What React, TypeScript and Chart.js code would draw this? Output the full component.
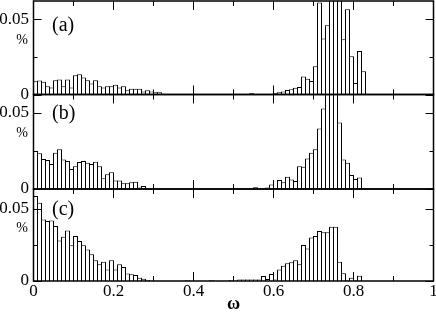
import { useEffect, useRef } from 'react';
import { Chart, registerables } from 'chart.js';

Chart.register(...registerables);

// ---------- data ----------
const BIN_WIDTH = 0.01;
const PANEL_TAGS = ['(a)', '(b)', '(c)'];
const X_TITLE = 'ω';
const Y_UNIT = '%';
const X_TICK_LABELS = [0, 0.2, 0.4, 0.6, 0.8, 1];
const X_MINOR_TICKS = [0.1, 0.3, 0.5, 0.7, 0.9];
const Y_TICK_LABELS = [0, 0.05];
const Y_MINOR_TICKS = [0.025];
const Y_MAX = [0.062, 0.062, 0.0635];

const SERIES_A = [
  0.0088, 0.0093, 0.0084, 0.0055, 0.0046, 0.0095, 0.0100, 0.0055, 0.0100, 0.0046,
  0.0128, 0.0135, 0.0113, 0.0095, 0.0073, 0.0095, 0.0055, 0.0046, 0.0055, 0.0055,
  0.0064, 0.0046, 0.0055, 0.0029, 0.0038, 0.0038, 0.0038, 0.0020, 0.0029, 0.0020,
  0.0015, 0.0015, 0.0005, 0, 0, 0, 0, 0, 0, 0,
  0, 0, 0, 0, 0, 0, 0, 0, 0, 0,
  0, 0, 0.0004, 0, 0.0008, 0, 0, 0.0004, 0, 0.0004,
  0.0008, 0.0015, 0.0020, 0.0030, 0.0035, 0.0045, 0.0050, 0.0120, 0.0104, 0.0090,
  0.0188, 0.0610, 0.0372, 0.0460, 0.0750, 0.0800, 0.0720, 0.0367, 0.0566, 0.0254,
  0.0077, 0.0288, 0.0155, 0, 0, 0, 0.0003, 0, 0, 0,
  0, 0, 0, 0, 0, 0, 0, 0, 0, 0,
];

const SERIES_B = [
  0.0249, 0.0234, 0.0197, 0.0190, 0.0164, 0.0238, 0.0260, 0.0194, 0.0183, 0.0131,
  0.0150, 0.0177, 0.0183, 0.0172, 0.0164, 0.0179, 0.0150, 0.0070, 0.0096, 0.0110,
  0.0055, 0.0055, 0.0037, 0.0037, 0.0044, 0.0048, 0.0010, 0.0020, 0, 0,
  0, 0, 0, 0, 0, 0, 0, 0, 0, 0,
  0, 0, 0, 0, 0, 0, 0, 0.0004, 0, 0,
  0, 0.0004, 0, 0.0004, 0, 0.0012, 0, 0, 0.0010, 0.0030,
  0.0005, 0.0059, 0.0044, 0.0080, 0.0063, 0.0052, 0.0150, 0.0146, 0.0200, 0.0238,
  0.0260, 0.0397, 0.0528, 0.0700, 0.0750, 0.0680, 0.0437, 0.0194, 0.0172, 0.0092,
  0.0066, 0.0076, 0, 0, 0, 0, 0, 0, 0, 0,
  0, 0, 0, 0, 0, 0, 0, 0, 0, 0,
];

const SERIES_C = [
  0.0586, 0.0540, 0.0425, 0.0414, 0.0418, 0.0379, 0.0280, 0.0306, 0.0349, 0.0246,
  0.0310, 0.0276, 0.0246, 0.0218, 0.0184, 0.0143, 0.0115, 0.0133, 0.0080, 0.0143,
  0.0080, 0.0115, 0.0097, 0.0051, 0.0046, 0.0041, 0.0023, 0.0016, 0.0007, 0,
  0, 0, 0, 0, 0, 0, 0, 0, 0.0005, 0,
  0, 0, 0, 0, 0.0005, 0, 0, 0, 0, 0.0007,
  0, 0.0010, 0.0010, 0.0010, 0.0010, 0.0010, 0.0010, 0.0035, 0.0013, 0.0048,
  0.0010, 0.0080, 0.0105, 0.0122, 0.0129, 0.0143, 0.0115, 0.0248, 0.0225, 0.0301,
  0.0310, 0.0345, 0.0336, 0.0336, 0.0375, 0.0375, 0.0133, 0.0053, 0.0007, 0.0023,
  0.0007, 0.0037, 0, 0, 0, 0, 0, 0, 0, 0,
  0, 0, 0, 0, 0, 0, 0, 0, 0, 0,
];

// ---------- layout / style ----------
const W = 436;
const H = 313;
const FONT = '"Liberation Serif", "Times New Roman", Times, serif';
const PANEL_IDS = ['ya', 'yb', 'yc'];
const PANEL_WEIGHTS = [93.5, 94.5, 92];
const TAG_OFFSETS = [24.5, 19.5, 20.5];
const TAG_X = 52;
const UNIT_X = 22;
const UNIT_OFFSET = 39;
const BORDER_W = 1.5;
const Y_AXIS_W = 33.5;
const PAD_RIGHT = 2.5;

const toPoints = (vals: number[]) => vals.map((v, i) => ({ x: (i + 0.5) * BIN_WIDTH, y: v }));

const panelPlugin = {
  id: 'panelDecor',
  beforeDatasetDraw(chart: any, args: any) {
    const ys = chart.scales[args.meta.yAxisID];
    const { left, right } = chart.chartArea;
    const ctx = chart.ctx;
    ctx.save();
    ctx.beginPath();
    ctx.rect(left, ys.top, right - left, ys.bottom - ys.top);
    ctx.clip();
  },
  afterDatasetDraw(chart: any) {
    chart.ctx.restore();
  },
  afterDraw(chart: any) {
    const ctx = chart.ctx;
    const { left, right } = chart.chartArea;
    const xs = chart.scales.x;
    ctx.save();
    ctx.strokeStyle = '#000';
    ctx.fillStyle = '#000';
    PANEL_IDS.forEach((id, p) => {
      const ys = chart.scales[id];
      const top = ys.top;
      const bottom = ys.bottom;
      // ticks
      ctx.lineWidth = 1;
      ctx.beginPath();
      const xTicks = [...X_TICK_LABELS.map((v) => [v, 9]), ...X_MINOR_TICKS.map((v) => [v, 5])];
      xTicks.forEach(([v, len]) => {
        const px = Math.floor(xs.getPixelForValue(v)) + 0.5;
        ctx.moveTo(px, bottom);
        ctx.lineTo(px, bottom - len);
        ctx.moveTo(px, top);
        ctx.lineTo(px, top + len);
      });
      const yTicks = [...Y_TICK_LABELS.map((v) => [v, 8]), ...Y_MINOR_TICKS.map((v) => [v, 4])];
      yTicks.forEach(([v, len]) => {
        const py = Math.round(ys.getPixelForValue(v)) + 0.5;
        ctx.moveTo(left, py);
        ctx.lineTo(left + len, py);
        ctx.moveTo(right, py);
        ctx.lineTo(right - len, py);
      });
      ctx.stroke();
      // frame
      ctx.lineWidth = BORDER_W;
      ctx.strokeRect(left, top, right - left, bottom - top);
      // tag
      ctx.textBaseline = 'middle';
      ctx.textAlign = 'left';
      ctx.font = `20px ${FONT}`;
      ctx.fillText(PANEL_TAGS[p], TAG_X, top + TAG_OFFSETS[p]);
      // unit
      ctx.textAlign = 'center';
      ctx.font = `14px ${FONT}`;
      ctx.fillText(Y_UNIT, UNIT_X, top + UNIT_OFFSET);
    });
    ctx.restore();
  },
};

function yScale(max: number, weight: number, order: number) {
  return {
    type: 'linear',
    position: 'left',
    stack: 'panels',
    stackWeight: weight,
    weight: order,
    min: 0,
    max,
    grid: { display: false, drawTicks: false },
    border: { display: false },
    afterBuildTicks: (s: any) => {
      s.ticks = Y_TICK_LABELS.map((v) => ({ value: v }));
    },
    afterFit: (s: any) => {
      s.width = Y_AXIS_W;
      s.paddingTop = 0;
      s.paddingBottom = 0;
    },
    ticks: {
      color: '#000',
      padding: 4.5,
      font: { family: FONT, size: 17 },
      callback: (v: any) => String(v),
    },
  };
}

export default function App() {
  const ref = useRef<HTMLCanvasElement | null>(null);
  useEffect(() => {
    if (!ref.current) return;
    const ds = (vals: number[], id: string) => ({
      data: toPoints(vals),
      yAxisID: id,
      backgroundColor: '#ffffff',
      borderColor: '#000000',
      borderWidth: 1,
      barPercentage: 1.25,
      categoryPercentage: 1,
      grouped: false,
      inflateAmount: 0,
    });
    const chart = new Chart(ref.current, {
      type: 'bar',
      data: {
        datasets: [ds(SERIES_A, 'ya'), ds(SERIES_B, 'yb'), ds(SERIES_C, 'yc')] as any,
      },
      options: {
        responsive: false,
        devicePixelRatio: 1,
        animation: false,
        layout: { padding: { top: 1, right: PAD_RIGHT, left: 0, bottom: 0 } },
        plugins: { legend: { display: false }, tooltip: { enabled: false }, title: { display: false } },
        scales: {
          x: {
            type: 'linear',
            position: 'bottom',
            offset: false,
            min: 0,
            max: 1,
            grid: { display: false, drawTicks: false, offset: false },
            border: { display: false },
            afterBuildTicks: (s: any) => {
              s.ticks = X_TICK_LABELS.map((v) => ({ value: v }));
            },
            afterFit: (s: any) => {
              s.height = 32;
              s.paddingLeft = 0;
              s.paddingRight = 0;
            },
            ticks: {
              color: '#000',
              padding: 0,
              autoSkip: false,
              maxRotation: 0,
              font: { family: FONT, size: 17 },
              callback: (v: any) => String(v),
            },
            title: {
              display: true,
              text: X_TITLE,
              color: '#000',
              font: { family: FONT, size: 18, weight: 'bold', lineHeight: 1 },
              padding: { top: 0, bottom: 0 },
            },
          },
          yc: yScale(Y_MAX[2], PANEL_WEIGHTS[2], 1),
          yb: yScale(Y_MAX[1], PANEL_WEIGHTS[1], 2),
          ya: yScale(Y_MAX[0], PANEL_WEIGHTS[0], 3),
        } as any,
      },
      plugins: [panelPlugin],
    });
    return () => chart.destroy();
  }, []);
  return (
    <div style={{ position: 'fixed', left: 0, top: 0, width: W, height: H, background: '#fff' }}>
      <canvas ref={ref} width={W} height={H} style={{ width: W, height: H, display: 'block' }} />
    </div>
  );
}
